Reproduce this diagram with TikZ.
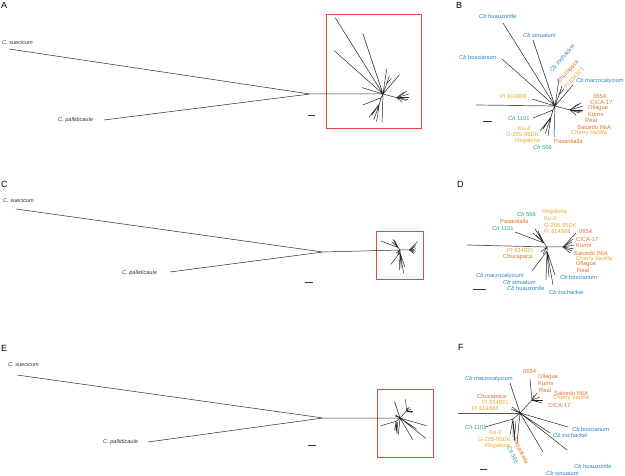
\documentclass[tikz,border=0pt]{standalone}
\usepackage{fontspec}
\setmainfont{Liberation Sans}
\usepackage{tikz}
\usetikzlibrary{positioning}

\definecolor{cbblue}{RGB}{38,134,196}
\definecolor{qorange}{RGB}{222,112,40}
\definecolor{qyellow}{RGB}{236,168,44}
\definecolor{chteal}{RGB}{32,168,140}
\definecolor{boxred}{RGB}{225,70,70}

% ingroup of A and B, offsets from the central node
\newcommand{\treeAB}{%
  \draw[branch] (0,0) -- (-52,-83)
    (0,0) -- (-22,-66)
    (0,0) -- (-53,-47)
    (0,0) -- (4,-27)
    (0,0) -- (4,-11) -- (7,-20) (4,-11) -- (9,-17)
    (0,0) -- (18,-21)
    (0,0) -- (-23,-7)
    (0,0) -- (-2,4) -- (-22,12)
    (-2,4) -- (-4,11) -- (-15,25) (-4,11) -- (-12,23)
    (-4,11) -- (-10,28) (-4,11) -- (-7,30)
    (0,0) -- (-1,31)
    (0,0) -- (15,4);
  \foreach \tx/\ty in {26/-3, 28/0, 28/4, 25/7, 21/9, 27/6, 23/-2}
    \draw[branch] (15,4) -- (\tx,\ty);
}
% ingroup of C and D
\newcommand{\treeCD}{%
  \draw[branch] (0,0) -- (16,0) -- (29,-14)
    (0,0) -- (-3,-4) -- (-32,-15)
    (-3,-4) -- (-14,-14) (-3,-4) -- (-12,-18)
    (-3,-4) -- (-9,-16) (-3,-4) -- (-11,-12)
    (0,0) -- (-6,5) (0,0) -- (-4,7)
    (0,0) -- (0,4) -- (-15,24)
    (0,4) -- (-1,33) (0,4) -- (2,30)
    (0,4) -- (6,38) (0,4) -- (8,28);
  \foreach \tx/\ty in {25/-5, 27/-2, 27/2, 25/4, 23/6, 26/-8}
    \draw[branch] (16,0) -- (\tx,\ty);
}
% ingroup of E and F
\newcommand{\treeEF}{%
  \draw[branch] (0,0) -- (-10,-30)
    (0,0) -- (12,-13) -- (10,-34)
    (0,0) -- (-8,-6) (0,0) -- (-7,-3) (0,0) -- (-9,-4)
    (0,0) -- (-7,6) -- (-35,14)
    (-7,6) -- (-10,22) (-7,6) -- (-7,24) (-7,6) -- (-5,27)
    (0,0) -- (-3,30) (-4,8) -- (-6,28)
    (0,0) -- (48,14) (0,0) -- (30,20)
    (0,0) -- (47,37) (0,0) -- (23,39);
  \foreach \tx/\ty in {14/-18, 17/-20, 20/-16, 23/-13, 22/-10, 18/-11}
    \draw[branch] (12,-13) -- (\tx,\ty);
}

\begin{document}
\begin{tikzpicture}[x=1bp, y=-1bp,
  branch/.style  = {line width=0.5bp, black!85},
  outgrp/.style  = {line width=0.7bp, black!65},
  taxon/.style   = {font=\fontsize{5.8}{6}\selectfont, inner sep=0pt, anchor=west},
  species/.style = {taxon, font=\fontsize{5.6}{6}\selectfont\itshape, text=black!80},
  panel/.style   = {font=\fontsize{9}{10}\selectfont, inner sep=0pt, anchor=west},
  zoombox/.style = {draw=boxred, line width=1bp},
  sbar/.style    = {line width=0.6bp, black!80},
  cb/.style      = {taxon, text=cbblue},
  orng/.style    = {taxon, text=qorange},
  yell/.style    = {taxon, text=qyellow},
  teal/.style    = {taxon, text=chteal}
]
  \useasboundingbox (0,0) rectangle (625,476);

  % zoom frames of A, C and E
  \draw[zoombox] (326.5,14.5) rectangle (421.5,128.5);
  \draw[zoombox] (376.5,231.5) rectangle (423.5,279.5);
  \draw[zoombox] (377.5,389.5) rectangle (433.5,457.5);

  %% ---------- A ----------
  \node[panel] (lA) at (1,5) {A};
  \node[species] (suecA) at (2,43) {C. suecicum};
  \node[species] (pallA) at (58,120) {C. pallidicaule};
  \coordinate (rootA) at (310,94);
  \coordinate (cenA) at (383,94);
  \draw[branch] (9,49) -- (rootA) (104,120) -- (rootA) (rootA) -- (cenA);
  \draw[sbar] (308,115) -- ++(7,0);
  \begin{scope}[shift={(cenA)}, scale=0.92]
    \treeAB
  \end{scope}

  %% ---------- B ----------
  \node[panel] (lB) at (456,5) {B};
  \coordinate (cenB) at (555,106);
  \draw[outgrp] (476,105) -- (cenB);
  \begin{scope}[shift={(cenB)}]
    \treeAB
  \end{scope}
  \draw[sbar] (483,121) -- ++(9,0);
  \node[cb] (huaB) at (479,16) {\textit{Cb} huauzontle};
  \node[cb] (sinB) at (523,35) {\textit{Cb} sinuatum};
  \node[cb] (bosB) at (459,57) {\textit{Cb} boscianum};
  \node[cb, anchor=center, rotate=48] (zscB) at (562,58) {\textit{Cb} zschackei};
  \node[orng, anchor=center, rotate=48] (chuB) at (568,72) {Chucapaca};
  \node[yell, anchor=center, rotate=48] (pi6B) at (574,78) {PI 634921};
  \node[cb] (macB) at (576,81) {\textit{Cb} macrocalycium};
  \node[yell] (pi8B) at (500,97) {PI 614888};
  \node[teal] (c11B) at (508,118) {\textit{Ch} 1101};
  \node[yell] (kuB) at (518,129) {Ku-2};
  \node[yell] (g20B) at (506,135) {G-205-95DK};
  \node[yell] (regB) at (515,141) {Regalona};
  \node[teal] (c56B) at (533,147) {\textit{Ch} 566};
  \node[orng] (pasB) at (554,141) {Pasankalla};
  \node[orng] (o65B) at (593,96.5) {0654};
  \node[orng] (cicB) at (590,102.5) {CICA-17};
  \node[orng] (ollB) at (588,108.5) {Ollague};
  \node[orng] (kurB) at (588,114.5) {Kurmi};
  \node[orng] (reaB) at (585,120.5) {Real};
  \node[orng] (salB) at (577,127) {Salcedo INIA};
  \node[yell] (cheB) at (571,133.5) {Cherry Vanilla};

  %% ---------- C ----------
  \node[panel] (lC) at (1,184) {C};
  \node[species] (suecC) at (3,201) {C. suecicum};
  \node[species] (pallC) at (122,273) {C. pallidicaule};
  \coordinate (rootC) at (323,252);
  \coordinate (cenC) at (400,250);
  \draw[branch] (16,209) -- (rootC) (170,272) -- (rootC) (rootC) -- (cenC);
  \draw[sbar] (305,282) -- ++(8,0);
  \begin{scope}[shift={(cenC)}, scale=0.6]
    \treeCD
  \end{scope}

  %% ---------- D ----------
  \node[panel] (lD) at (457,184) {D};
  \coordinate (cenD) at (547,247);
  \draw[outgrp] (467,245) -- (cenD);
  \begin{scope}[shift={(cenD)}]
    \treeCD
  \end{scope}
  \draw[sbar] (473,289) -- ++(13,0);
  \node[yell] (regD) at (542,212.5) {Regalona};
  \node[yell] (kuD) at (544,219) {Ku-2};
  \node[yell] (g20D) at (544,225.5) {G-205-95DK};
  \node[yell] (pi8D) at (544,232) {PI 614888};
  \node[teal] (c56D) at (517,214) {\textit{Ch} 566};
  \node[orng] (pasD) at (500,221.5) {Pasankalla};
  \node[teal] (c11D) at (492,228.5) {\textit{Ch} 1101};
  \node[orng] (o65D) at (579,231.5) {0654};
  \node[orng] (cicD) at (576,239.5) {CICA-17};
  \node[orng] (kurD) at (576,245.5) {Kurmi};
  \node[orng] (salD) at (574,253) {Salcedo INIA};
  \node[yell] (cheD) at (576,259) {Cherry Vanilla};
  \node[orng] (ollD) at (576,264.5) {Ollague};
  \node[orng] (reaD) at (577,270) {Real};
  \node[yell] (pi6D) at (507,251) {PI 634921};
  \node[orng] (chuD) at (503,257) {Chucapaca};
  \node[cb] (macD) at (476,276) {\textit{Cb} macrocalycium};
  \node[cb] (sinD) at (503,282) {\textit{Cb} sinuatum};
  \node[cb] (huaD) at (507,288.5) {\textit{Cb} huauzontle};
  \node[cb] (bosD) at (560,277) {\textit{Cb} boscianum};
  \node[cb] (zscD) at (549,292) {\textit{Cb} zschackei};

  %% ---------- E ----------
  \node[panel] (lE) at (1,348) {E};
  \node[species] (suecE) at (8,365) {C. suecicum};
  \node[species] (pallE) at (103,442) {C. pallidicaule};
  \coordinate (rootE) at (323,418);
  \coordinate (cenE) at (400,418);
  \draw[branch] (17,375) -- (rootE) (148,442) -- (rootE) (rootE) -- (cenE);
  \draw[sbar] (308,445) -- ++(8,0);
  \begin{scope}[shift={(cenE)}, scale=0.55]
    \treeEF
  \end{scope}

  %% ---------- F ----------
  \node[panel] (lF) at (458,347) {F};
  \coordinate (cenF) at (520,413);
  \draw[outgrp] (458,413) -- (cenF);
  \begin{scope}[shift={(cenF)}]
    \treeEF
  \end{scope}
  \draw[sbar] (480,469) -- ++(7,0);
  \node[cb] (macF) at (465,379) {\textit{Cb} macrocalycium};
  \node[orng] (o65F) at (523,372) {0654};
  \node[orng] (ollF) at (538,377) {Ollague};
  \node[orng] (kurF) at (538,383.5) {Kurmi};
  \node[orng] (reaF) at (539,390) {Real};
  \node[orng] (salF) at (554,393) {Salcedo INIA};
  \node[yell] (cheF) at (553,398.5) {Cherry Vanilla};
  \node[orng] (cicF) at (548,405.5) {CICA-17};
  \node[orng] (chuF) at (477,397) {Chucapaca};
  \node[yell] (pi6F) at (482,403) {PI 634921};
  \node[yell] (pi8F) at (472,409) {PI 614888};
  \node[teal] (c11F) at (465,427) {\textit{Ch} 1101};
  \node[yell] (kuF) at (489,433) {Ku-2};
  \node[yell] (g20F) at (478,439.5) {G-205-95DK};
  \node[yell] (regF) at (485,446) {Regalona};
  \node[orng, anchor=center, rotate=-65] (pasF) at (521,451) {Pasankalla};
  \node[teal, anchor=center, rotate=-65] (c56F) at (513,455) {\textit{Ch} 566};
  \node[cb] (bosF) at (572,429) {\textit{Cb} boscianum};
  \node[cb] (zscF) at (553,435) {\textit{Cb} zschackei};
  \node[cb] (huaF) at (574,466) {\textit{Cb} huauzontle};
  \node[cb] (sinF) at (546,473) {\textit{Cb} sinuatum};
\end{tikzpicture}
\end{document}
